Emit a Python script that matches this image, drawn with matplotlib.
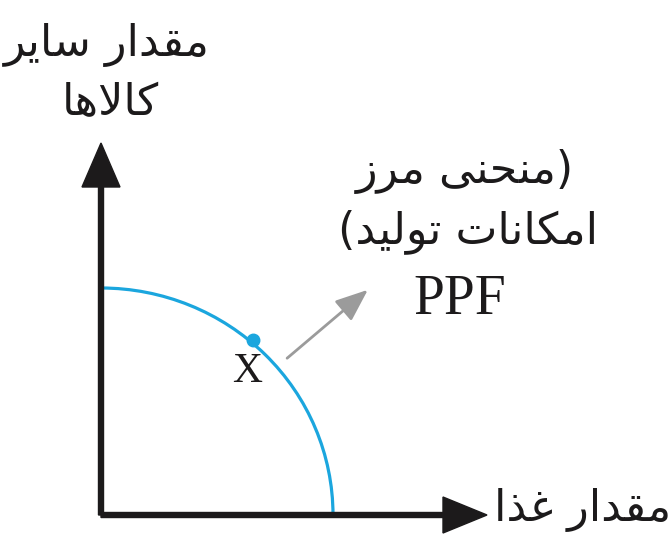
import matplotlib
matplotlib.use("Agg")
import matplotlib.pyplot as plt
from matplotlib.patches import Arc

# --- chart data (pixel-like units, origin at the axes corner) ---
x_axis_len = 386          # food axis length
y_axis_len = 372          # other goods axis length
ppf_food_max = 232        # PPF intercept on food axis
ppf_goods_max = 227       # PPF intercept on other-goods axis
point_x = [152]           # point X on the frontier
point_y = [175]
pointer_start = (184, 155)
pointer_end = (269, 227)

y_label = ["مقدار سایر", "کالاها"]
x_label = "مقدار غذا"
ppf_label = ["\u0028" + "منحنی مرز", "امکانات تولید" + "\u0029", "PPF"]
point_label = "X"

ink = "#1c1a1b"
blue = "#1ba6de"
grey = "#9b9b9b"


# simple persian shaping: presentation forms + visual (reversed) order
FORMS = {
    "ا": ("\uFE8D", "\uFE8E"), "د": ("\uFEA9", "\uFEAA"), "ذ": ("\uFEAB", "\uFEAC"),
    "ر": ("\uFEAD", "\uFEAE"), "ز": ("\uFEAF", "\uFEB0"), "و": ("\uFEED", "\uFEEE"),
    "م": ("\uFEE1", "\uFEE2", "\uFEE3", "\uFEE4"), "ق": ("\uFED5", "\uFED6", "\uFED7", "\uFED8"),
    "س": ("\uFEB1", "\uFEB2", "\uFEB3", "\uFEB4"), "ی": ("\uFBFC", "\uFBFD", "\uFBFE", "\uFBFF"),
    "ک": ("\uFB8E", "\uFB8F", "\uFB90", "\uFB91"), "ل": ("\uFEDD", "\uFEDE", "\uFEDF", "\uFEE0"),
    "ه": ("\uFEE9", "\uFEEA", "\uFEEB", "\uFEEC"), "غ": ("\uFECD", "\uFECE", "\uFECF", "\uFED0"),
    "ن": ("\uFEE5", "\uFEE6", "\uFEE7", "\uFEE8"), "ح": ("\uFEA1", "\uFEA2", "\uFEA3", "\uFEA4"),
    "ت": ("\uFE95", "\uFE96", "\uFE97", "\uFE98"),
}
MIRROR = {"(": ")", ")": "("}


def shape(s):
    out = []
    i = 0
    n = len(s)
    while i < n:
        c = s[i]
        if c not in FORMS:
            out.append(MIRROR.get(c, c))
            i += 1
            continue
        prev = s[i - 1] if i > 0 else ""
        joins_prev = prev in FORMS and len(FORMS[prev]) == 4
        if c == "ل" and i + 1 < n and s[i + 1] == "ا":
            out.append("\uFEFC" if joins_prev else "\uFEFB")
            i += 2
            continue
        nxt = s[i + 1] if i + 1 < n else ""
        joins_next = len(FORMS[c]) == 4 and nxt in FORMS
        f = FORMS[c]
        if joins_prev and joins_next:
            out.append(f[3])
        elif joins_prev:
            out.append(f[1])
        elif joins_next:
            out.append(f[2])
        else:
            out.append(f[0])
        i += 1
    return "".join(reversed(out))


fig = plt.figure(figsize=(6.71, 5.48), dpi=100)
ax = fig.add_axes([0, 0, 1, 1])
ax.set_xlim(-101, 570)
ax.set_ylim(-33, 515)
ax.set_aspect("equal")
ax.axis("off")

# axes arrows
ax.arrow(0, 0, x_axis_len, 0, width=5, head_width=36, head_length=44,
         length_includes_head=True, color=ink, zorder=3)
ax.arrow(0, 0, 0, y_axis_len, width=5, head_width=38, head_length=44,
         length_includes_head=True, color=ink, zorder=3)

# production possibility frontier
ax.add_patch(Arc((0, 0), 2 * ppf_food_max, 2 * ppf_goods_max, theta1=0, theta2=90,
                 color=blue, lw=2.3, zorder=2))
ax.plot(point_x, point_y, "o", color=blue, ms=9, zorder=4)
ax.text(point_x[0] - 6, point_y[0] - 32, point_label, family="Liberation Serif",
        fontsize=30, color=ink, ha="center", va="center")

ax.annotate("", xy=pointer_end, xytext=pointer_start,
            arrowprops=dict(arrowstyle="-|>,head_length=1.0,head_width=0.4",
                            color=grey, lw=2, mutation_scale=20))

# labels
fa = dict(family="DejaVu Sans", color=ink, ha="center", va="center")
ax.text(6, 470, shape(y_label[0]), fontsize=32, **fa)
ax.text(9, 412, shape(y_label[1]), fontsize=32, **fa)
ax.text(482, 5, shape(x_label), fontsize=32, **fa)
ax.text(364, 343, shape(ppf_label[0]), fontsize=32, **fa)
ax.text(367, 283, shape(ppf_label[1]), fontsize=32, **fa)
ax.text(359, 215, ppf_label[2], family="Liberation Serif", fontsize=40,
        color=ink, ha="center", va="center")

fig.savefig("out.png", dpi=100)
